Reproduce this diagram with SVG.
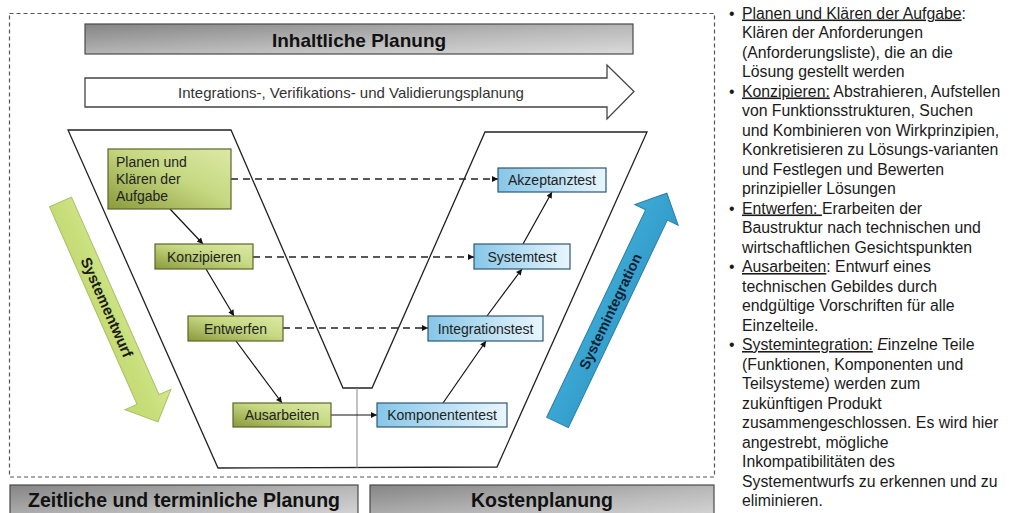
<svg xmlns="http://www.w3.org/2000/svg" width="1011" height="513" viewBox="0 0 1011 513">
<defs>
<linearGradient id="gGray" x1="0" y1="0" x2="1" y2="1">
<stop offset="0" stop-color="#858585"/><stop offset="0.55" stop-color="#b9b9b9"/><stop offset="1" stop-color="#dadada"/>
</linearGradient>
<linearGradient id="gGreen" x1="0" y1="1" x2="1" y2="0">
<stop offset="0" stop-color="#8a9a3c"/><stop offset="0.55" stop-color="#c6d882"/><stop offset="1" stop-color="#dce9a6"/>
</linearGradient>
<linearGradient id="gBlue" x1="0" y1="0" x2="1" y2="0">
<stop offset="0" stop-color="#86c6e8"/><stop offset="1" stop-color="#e9f6fd"/>
</linearGradient>
<linearGradient id="gArrowG" x1="0" y1="0" x2="0" y2="1">
<stop offset="0" stop-color="#d4e78e"/><stop offset="0.5" stop-color="#c8de7a"/><stop offset="1" stop-color="#c2d872"/>
</linearGradient>
<linearGradient id="gArrowB" x1="0" y1="0" x2="0" y2="1">
<stop offset="0" stop-color="#3eaad6"/><stop offset="0.5" stop-color="#38a3d0"/><stop offset="1" stop-color="#339bc8"/>
</linearGradient>
<marker id="ah" viewBox="0 0 10 10" refX="10" refY="5" markerWidth="7" markerHeight="6" markerUnits="userSpaceOnUse" orient="auto">
<path d="M0,0 L10,5 L0,10 Z" fill="#111"/>
</marker>
<style>
.bar{stroke:#4a4a4a;stroke-width:1.2;fill:url(#gGray)}
.barT{font-family:"Liberation Sans",Arial,sans-serif;font-weight:bold;fill:#111;text-anchor:middle}
.gn rect{fill:url(#gGreen);stroke:#5a6628;stroke-width:1.2}
.bn rect{fill:url(#gBlue);stroke:#2e5873;stroke-width:1.2}
.nt{font-family:"Liberation Sans",Arial,sans-serif;font-size:14px;fill:#222;text-anchor:middle}
.solid{stroke:#111;stroke-width:1.2;fill:none;marker-end:url(#ah)}
.dash{stroke:#222;stroke-width:1.5;fill:none;stroke-dasharray:7 5;marker-end:url(#ah)}
.rt{font-family:"Liberation Sans",Arial,sans-serif;font-size:15.8px;fill:#1a1a1a}
.u{text-decoration:underline}
</style>
</defs>
<rect width="1011" height="513" fill="#fff"/>

<!-- outer dashed frame -->
<rect x="9.5" y="13.5" width="705" height="463.5" fill="none" stroke="#555" stroke-width="1.2" stroke-dasharray="4 3"/>

<g id="inhaltliche-planung">
<rect class="bar" x="85" y="24" width="548" height="30"/>
<text class="barT" x="359" y="47" font-size="19">Inhaltliche Planung</text>
</g>

<g id="ivv-planung">
<path d="M85,78 L607,78 L607,65 L634,91.5 L607,119 L607,107 L85,107 Z" fill="#fff" stroke="#444" stroke-width="1.3"/>
<text x="351" y="98" font-family="Liberation Sans, Arial, sans-serif" font-size="15" fill="#333" text-anchor="middle">Integrations-, Verifikations- und Validierungsplanung</text>
</g>

<g id="v-frame">
<polygon points="68,130 231,130 343,388 372,388 485,132 647,132 497,467 218,468" fill="none" stroke="#222" stroke-width="1.3"/>
<line x1="357" y1="388" x2="357" y2="468" stroke="#888" stroke-width="1"/>
</g>

<g id="systementwurf">
<g transform="translate(60.5,202) rotate(66.1)">
<path d="M0,-12 L216,-12 L216,-25 L240.5,0 L216,25 L216,12 L0,12 Z" fill="url(#gArrowG)" stroke="#a8bf62" stroke-width="1"/>
<text x="115" y="0" dominant-baseline="central" text-anchor="middle" font-family="Liberation Sans, Arial, sans-serif" font-weight="bold" font-size="15" fill="#1a1a1a">Systementwurf</text>
</g>
</g>

<g id="systemintegration">
<g transform="translate(557.5,422.5) rotate(-64.5)">
<path d="M0,-12 L230,-12 L230,-24 L254,0 L230,24 L230,12 L0,12 Z" fill="url(#gArrowB)" stroke="#2a7ea8" stroke-width="1"/>
<text x="123" y="0" dominant-baseline="central" text-anchor="middle" font-family="Liberation Sans, Arial, sans-serif" font-weight="bold" font-size="14.5" fill="#0f2233">Systemintegration</text>
</g>
</g>

<g id="connectors">
<line class="solid" x1="170" y1="209" x2="203" y2="244"/>
<line class="solid" x1="206" y1="269" x2="234" y2="316"/>
<line class="solid" x1="236" y1="341" x2="282" y2="403"/>
<line class="solid" x1="331" y1="415" x2="377" y2="415"/>
<line class="solid" x1="443" y1="403" x2="486" y2="341"/>
<line class="solid" x1="487" y1="316" x2="522" y2="269"/>
<line class="solid" x1="523" y1="244" x2="552" y2="192"/>
<line class="dash" x1="231" y1="179" x2="498" y2="179"/>
<line class="dash" x1="253" y1="257" x2="474" y2="257"/>
<line class="dash" x1="283" y1="328" x2="428" y2="328"/>
</g>

<g id="planen" class="gn">
<rect x="108" y="149" width="123" height="60"/>
<text font-family="Liberation Sans, Arial, sans-serif" font-size="14" fill="#222"><tspan x="116" y="167">Planen und</tspan><tspan x="116" y="184">Klären der</tspan><tspan x="116" y="201">Aufgabe</tspan></text>
</g>
<g id="konzipieren" class="gn">
<rect x="155" y="244" width="98" height="25"/>
<text class="nt" x="204" y="261.5">Konzipieren</text>
</g>
<g id="entwerfen" class="gn">
<rect x="188" y="316" width="95" height="25"/>
<text class="nt" x="235.5" y="333.5">Entwerfen</text>
</g>
<g id="ausarbeiten" class="gn">
<rect x="233" y="403" width="98" height="24"/>
<text class="nt" x="282" y="420">Ausarbeiten</text>
</g>
<g id="komponententest" class="bn">
<rect x="377" y="403" width="130" height="24"/>
<text class="nt" x="442" y="420">Komponententest</text>
</g>
<g id="integrationstest" class="bn">
<rect x="428" y="316" width="115" height="25"/>
<text class="nt" x="485.5" y="333.5">Integrationstest</text>
</g>
<g id="systemtest" class="bn">
<rect x="474" y="244" width="96" height="25"/>
<text class="nt" x="522" y="261.5">Systemtest</text>
</g>
<g id="akzeptanztest" class="bn">
<rect x="498" y="168" width="108" height="24"/>
<text class="nt" x="552" y="185">Akzeptanztest</text>
</g>

<g id="zeitliche-planung">
<rect class="bar" x="10" y="485" width="348" height="36"/>
<text class="barT" x="184" y="507" font-size="19.5">Zeitliche und terminliche Planung</text>
</g>
<g id="kostenplanung">
<rect class="bar" x="370" y="485" width="344" height="36"/>
<text class="barT" x="542" y="507" font-size="19.5">Kostenplanung</text>
</g>

<g id="beschreibung" class="rt">
<text x="729" y="18.5">•</text>
<text x="742" y="18.5"><tspan class="u">Planen und Klären der Aufgabe</tspan>:</text>
<text x="742" y="38">Klären der Anforderungen</text>
<text x="742" y="57.5">(Anforderungsliste), die an die</text>
<text x="742" y="77">Lösung gestellt werden</text>
<text x="729" y="96.5">•</text>
<text x="742" y="96.5"><tspan class="u">Konzipieren:</tspan> Abstrahieren, Aufstellen</text>
<text x="742" y="116">von Funktionsstrukturen, Suchen</text>
<text x="742" y="135.5">und Kombinieren von Wirkprinzipien,</text>
<text x="742" y="155">Konkretisieren zu Lösungs-varianten</text>
<text x="742" y="174.5">und Festlegen und Bewerten</text>
<text x="742" y="194">prinzipieller Lösungen</text>
<text x="729" y="213.5">•</text>
<text x="742" y="213.5"><tspan class="u">Entwerfen: </tspan>Erarbeiten der</text>
<text x="742" y="233">Baustruktur nach technischen und</text>
<text x="742" y="252.5">wirtschaftlichen Gesichtspunkten</text>
<text x="729" y="272">•</text>
<text x="742" y="272"><tspan class="u">Ausarbeiten</tspan>: Entwurf eines</text>
<text x="742" y="291.5">technischen Gebildes durch</text>
<text x="742" y="311">endgültige Vorschriften für alle</text>
<text x="742" y="330.5">Einzelteile.</text>
<text x="729" y="350">•</text>
<text x="742" y="350"><tspan class="u">Systemintegration:</tspan> <tspan font-style="italic">E</tspan>inzelne Teile</text>
<text x="742" y="369.5">(Funktionen, Komponenten und</text>
<text x="742" y="389">Teilsysteme) werden zum</text>
<text x="742" y="408.5">zukünftigen Produkt</text>
<text x="742" y="428">zusammengeschlossen. Es wird hier</text>
<text x="742" y="447.5">angestrebt, mögliche</text>
<text x="742" y="467">Inkompatibilitäten des</text>
<text x="742" y="486.5">Systementwurfs zu erkennen und zu</text>
<text x="742" y="506">eliminieren.</text>
</g>
</svg>
